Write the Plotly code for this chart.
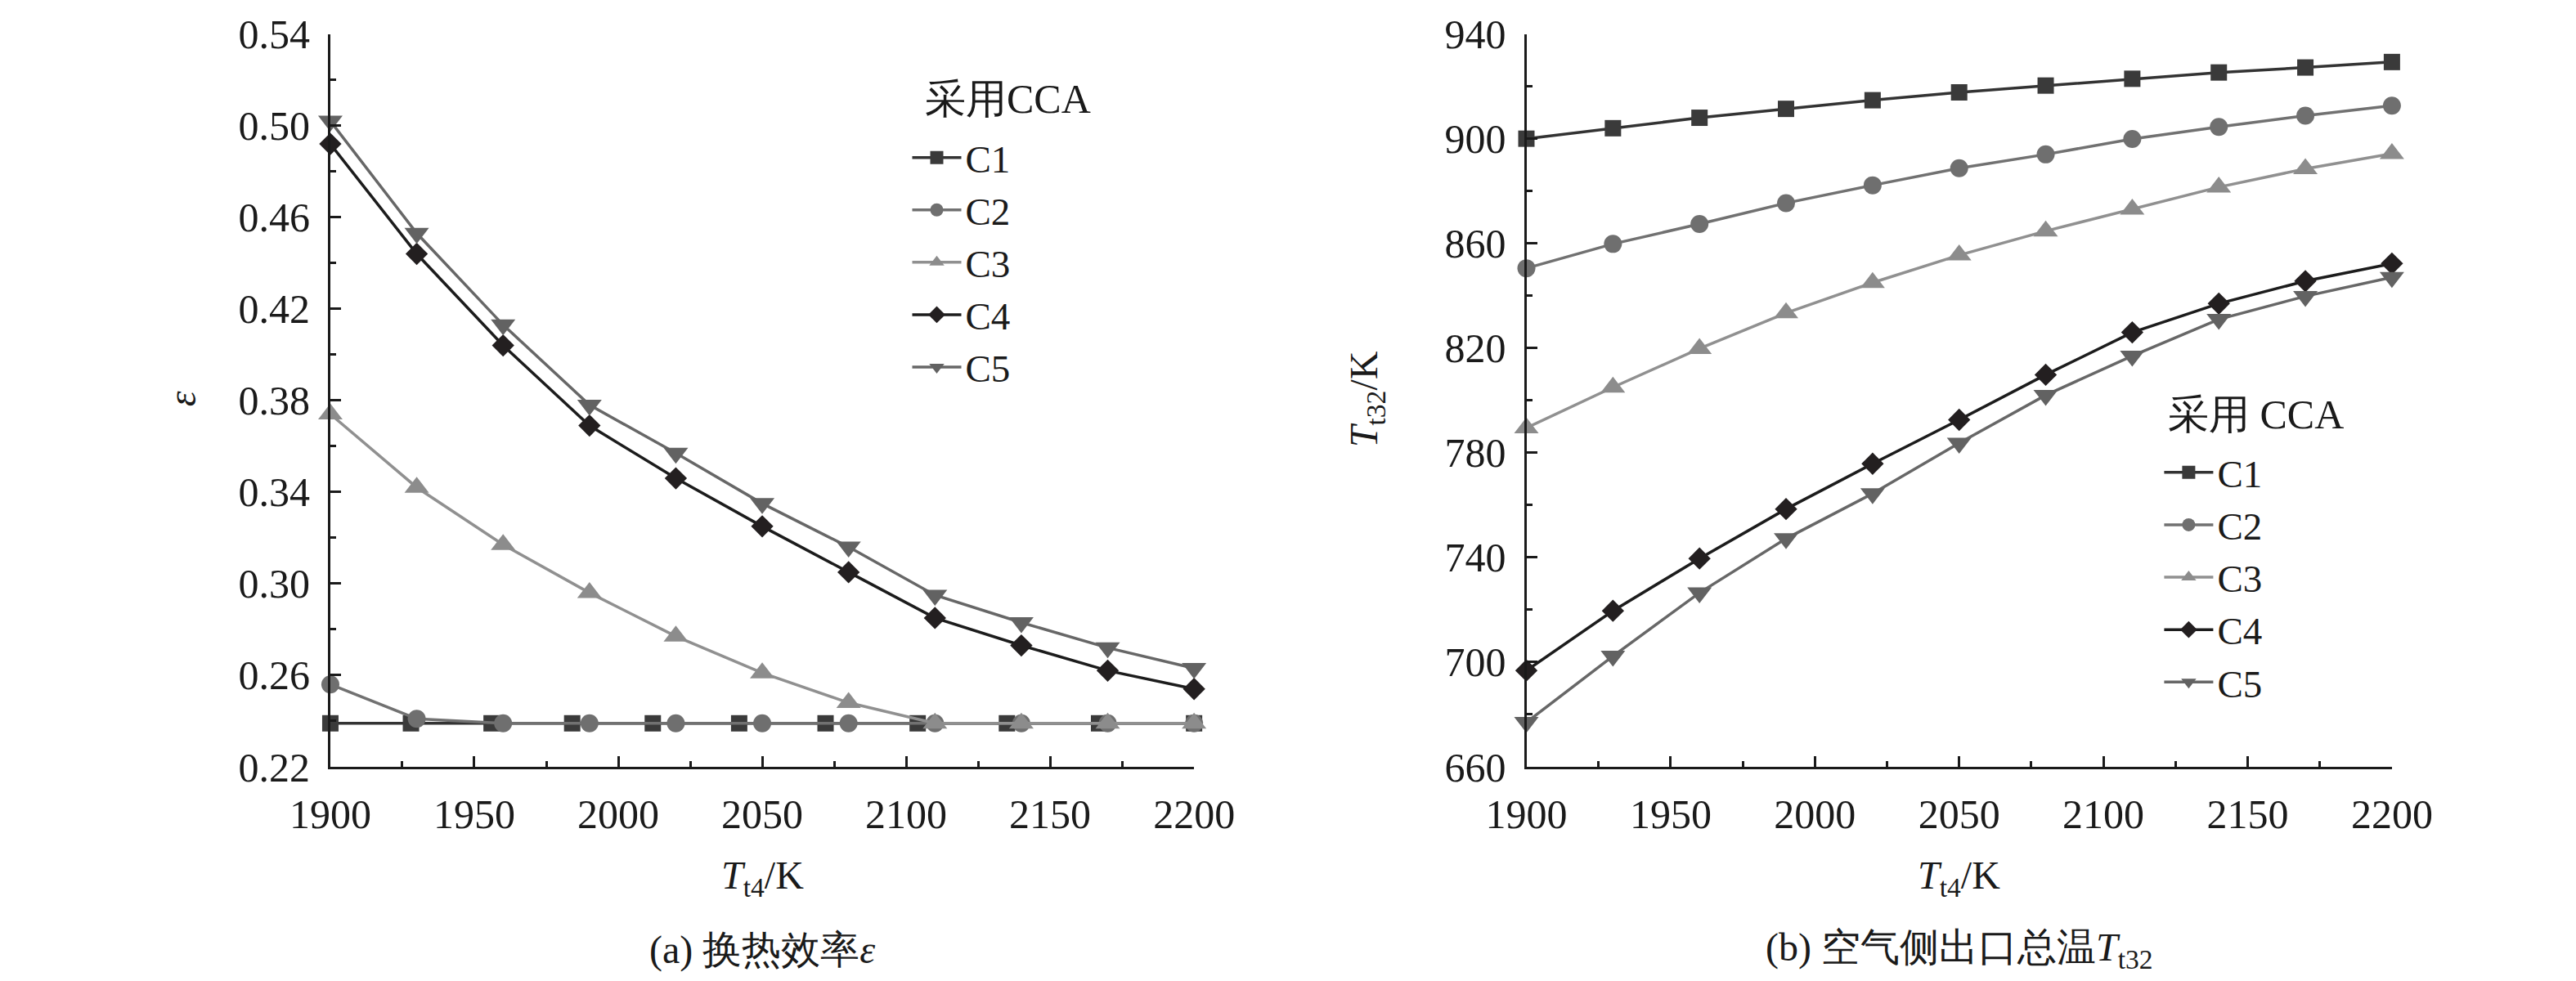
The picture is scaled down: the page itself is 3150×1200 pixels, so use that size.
import plotly.graph_objects as go

# T_t4 (K) sample points
x_t4 = [1900, 1930, 1960, 1990, 2020, 2050, 2080, 2110, 2140, 2170, 2200]
# C1 on the left panel sits at slightly different x positions
x_t4_c1 = [1900, 1928, 1956, 1984, 2012, 2042, 2072, 2104, 2135, 2167, 2200]

# (a) heat-exchange efficiency epsilon
eps_c1 = [0.239, 0.239, 0.239, 0.239, 0.239, 0.239, 0.239, 0.239, 0.239, 0.239, 0.239]
eps_c2 = [0.256, 0.241, 0.239, 0.239, 0.239, 0.239, 0.239, 0.239, 0.239, 0.239, 0.239]
eps_c3 = [0.374, 0.342, 0.317, 0.296, 0.277, 0.261, 0.248, 0.239, 0.239, 0.239, 0.239]
eps_c4 = [0.492, 0.444, 0.404, 0.369, 0.346, 0.325, 0.305, 0.285, 0.273, 0.262, 0.254]
eps_c5 = [0.502, 0.453, 0.413, 0.378, 0.357, 0.335, 0.316, 0.295, 0.283, 0.272, 0.263]

# (b) air-side outlet total temperature T_t32 (K)
t32_c1 = [900.0, 904.0, 908.0, 911.4, 914.7, 917.7, 920.3, 922.9, 925.3, 927.2, 929.3]
t32_c2 = [850.5, 859.8, 867.4, 875.4, 882.2, 888.7, 894.0, 899.9, 904.5, 908.8, 912.6]
t32_c3 = [789.5, 805.0, 819.8, 833.4, 845.0, 855.5, 864.7, 873.0, 881.5, 888.5, 894.3]
t32_c4 = [696.8, 719.6, 739.6, 758.5, 775.8, 792.6, 809.8, 826.0, 837.0, 845.6, 852.3]
t32_c5 = [677.0, 702.3, 726.5, 747.2, 764.4, 783.7, 802.0, 817.0, 831.0, 839.8, 847.0]

names = ["C1", "C2", "C3", "C4", "C5"]
line_colors = ["#333333", "#717171", "#909090", "#1c1c1c", "#676767"]
marker_colors = ["#3a3a3a", "#6f6f6f", "#8c8c8c", "#231f20", "#626262"]
symbols = ["square", "circle", "triangle-up", "diamond", "triangle-down"]
sizes = [20, 22, 26, 21, 26]

FONT = "Liberation Serif, serif"
INK = "#1a1a1a"

fig = go.Figure()

left_x = [x_t4_c1, x_t4, x_t4, x_t4, x_t4]
left_y = [eps_c1, eps_c2, eps_c3, eps_c4, eps_c5]
right_y = [t32_c1, t32_c2, t32_c3, t32_c4, t32_c5]

for i in range(5):
    fig.add_trace(go.Scatter(
        x=left_x[i], y=left_y[i], name=names[i], mode="lines+markers",
        line=dict(color=line_colors[i], width=3.5),
        marker=dict(symbol=symbols[i], size=sizes[i], color=marker_colors[i]),
        cliponaxis=False, xaxis="x", yaxis="y", legend="legend"))
for i in range(5):
    fig.add_trace(go.Scatter(
        x=x_t4, y=right_y[i], name=names[i], mode="lines+markers",
        line=dict(color=line_colors[i], width=3.5),
        marker=dict(symbol=symbols[i], size=sizes[i], color=marker_colors[i]),
        cliponaxis=False, xaxis="x2", yaxis="y2", legend="legend2"))

tick_font = dict(family=FONT, size=50, color=INK)
minor_ticks = dict(ticks="inside", ticklen=7, tickwidth=3, tickcolor=INK)
axis_common = dict(
    showline=True, linecolor=INK, linewidth=3, mirror=False,
    showgrid=False, zeroline=False,
    ticks="inside", ticklen=13, tickwidth=3, tickcolor=INK,
    tickfont=tick_font, ticklabelstandoff=12,
)

xdom_a = [0.1257, 0.461]
xdom_b = [0.590, 0.926]
ydom = [0.225, 0.972]

fig.update_layout(
    template="none",
    width=3150, height=1200,
    paper_bgcolor="white", plot_bgcolor="white",
    margin=dict(l=0, r=0, t=0, b=0),
    font=dict(family=FONT, size=48, color=INK),
    xaxis=dict(domain=xdom_a, anchor="y", range=[1900, 2200], tick0=1900, dtick=50,
               minor=dict(dtick=25, **minor_ticks), **axis_common),
    yaxis=dict(domain=ydom, anchor="x", range=[0.22, 0.54], tick0=0.22, dtick=0.04,
               tickformat=".2f", minor=dict(dtick=0.02, **minor_ticks), **axis_common),
    xaxis2=dict(domain=xdom_b, anchor="y2", range=[1900, 2200], tick0=1900, dtick=50,
                minor=dict(dtick=25, **minor_ticks), **axis_common),
    yaxis2=dict(domain=ydom, anchor="x2", range=[660, 940], tick0=660, dtick=40,
                minor=dict(dtick=20, **minor_ticks), **axis_common),
    legend=dict(
        x=0.350, y=0.877, xanchor="left", yanchor="top",
        font=dict(family=FONT, size=47, color=INK), bgcolor="rgba(0,0,0,0)",
        tracegroupgap=0, itemwidth=60),
    legend2=dict(
        x=0.836, y=0.556, xanchor="left", yanchor="top",
        font=dict(family=FONT, size=47, color=INK), bgcolor="rgba(0,0,0,0)",
        tracegroupgap=0, itemwidth=60),
    showlegend=True,
)

# legend titles, axis titles and panel captions
annos = [
    dict(text="采用CCA", x=0.356, y=0.906, xanchor="left", textangle=0, size=50),
    dict(text="采用 CCA", x=0.8385, y=0.584, xanchor="left", textangle=0, size=50),
    dict(text="<i>ε</i>", x=0.068, y=0.60, xanchor="center", textangle=-90, size=48),
    dict(text="<i>T</i><sub>t32</sub>/K", x=0.528, y=0.60, xanchor="center", textangle=-90, size=48),
    dict(text="<i>T</i><sub>t4</sub>/K", x=sum(xdom_a) / 2, y=0.112, xanchor="center", textangle=0, size=48),
    dict(text="<i>T</i><sub>t4</sub>/K", x=sum(xdom_b) / 2, y=0.112, xanchor="center", textangle=0, size=48),
    dict(text="(a) 换热效率<i>ε</i>", x=sum(xdom_a) / 2, y=0.038, xanchor="center", textangle=0, size=48),
    dict(text="(b) 空气侧出口总温<i>T</i><sub>t32</sub>", x=0.758, y=0.038, xanchor="center", textangle=0, size=48),
]
for a in annos:
    fig.add_annotation(text=a["text"], x=a["x"], y=a["y"], xref="paper", yref="paper",
                       xanchor=a["xanchor"], yanchor="middle", textangle=a["textangle"],
                       showarrow=False, font=dict(family=FONT, size=a["size"], color=INK))

fig.write_html("out.html")
